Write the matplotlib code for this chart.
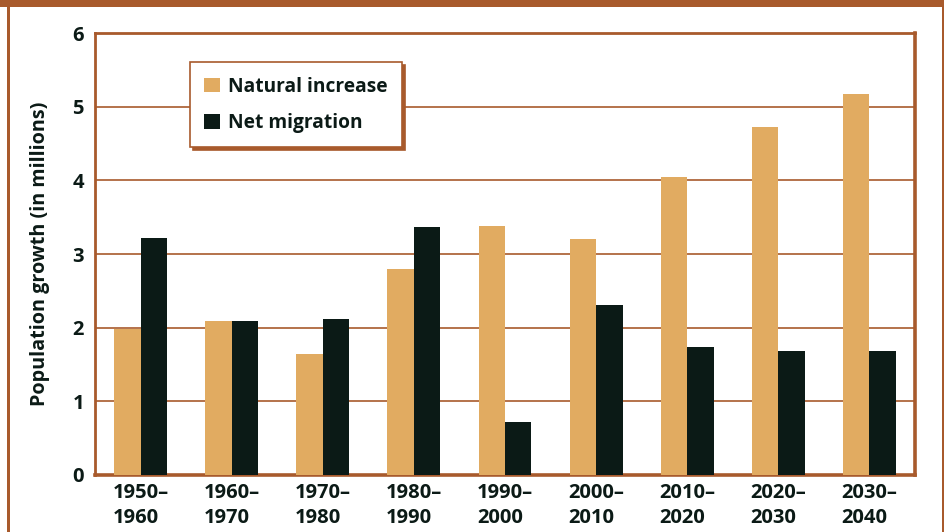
import matplotlib
matplotlib.use("Agg")
import matplotlib.pyplot as plt
from matplotlib.patches import Rectangle
import numpy as np

plt.rcParams['font.family'] = ['Open Sans', 'DejaVu Sans']

categories = ["1950–\n1960", "1960–\n1970", "1970–\n1980", "1980–\n1990", "1990–\n2000",
              "2000–\n2010", "2010–\n2020", "2020–\n2030", "2030–\n2040"]
natural_increase = [1.98, 2.09, 1.64, 2.80, 3.38, 3.20, 4.04, 4.72, 5.17]
net_migration = [3.22, 2.09, 2.12, 3.37, 0.72, 2.31, 1.74, 1.68, 1.68]
yticks = [0, 1, 2, 3, 4, 5, 6]

BROWN = "#A85A2C"
TAN = "#E1AB61"
DARK = "#0B1A16"

fig = plt.figure(figsize=(9.45, 5.32), dpi=100)
fig.patch.set_facecolor("white")

# figure frame (top, left, right)
fig.add_artist(Rectangle((0, 1 - 7/532), 1, 7/532, transform=fig.transFigure,
                         facecolor=BROWN, edgecolor="none"))
fig.add_artist(Rectangle((7/945, 0), 3/945, 1, transform=fig.transFigure,
                         facecolor=BROWN, edgecolor="none"))
fig.add_artist(Rectangle((942/945, 0), 3/945, 1, transform=fig.transFigure,
                         facecolor=BROWN, edgecolor="none"))

ax = fig.add_axes([95/945, 57/532, 820/945, 442/532])
x = np.arange(len(categories))
w = 0.29
ax.bar(x - w/2, natural_increase, width=w, color=TAN, label="Natural increase", zorder=3)
ax.bar(x + w/2, net_migration, width=w, color=DARK, label="Net migration", zorder=3)

ax.set_xlim(-0.5, len(categories) - 0.5)
ax.set_ylim(0, 6)
ax.set_yticks(yticks)
ax.set_yticklabels([str(v) for v in yticks])
ax.set_xticks(x)
ax.set_xticklabels(categories)
for lab in ax.get_xticklabels():
    lab.set_multialignment('left')
    lab.set_linespacing(1.3)

ax.tick_params(axis='both', length=0, labelsize=14.5, labelcolor=DARK)
ax.tick_params(axis='y', pad=8)
ax.tick_params(axis='x', pad=6)
for lab in ax.get_xticklabels() + ax.get_yticklabels():
    lab.set_fontweight('bold')

ax.yaxis.grid(True, color=BROWN, linewidth=1.2, zorder=1)
ax.set_axisbelow(True)

for side, lw in [('left', 2.0), ('top', 2.0), ('right', 2.6), ('bottom', 2.6)]:
    ax.spines[side].set_color(BROWN)
    ax.spines[side].set_linewidth(lw)

ax.set_ylabel("Population growth (in millions)", fontsize=14.2, fontweight='bold',
              color=DARK, labelpad=16)

leg = ax.legend(loc='upper left', bbox_to_anchor=(0.116, 0.934), borderaxespad=0,
                frameon=True, fancybox=False, shadow={'color': BROWN, 'alpha': 1.0},
                prop={'weight': 'bold', 'size': 13.8}, handlelength=0.8, handleheight=0.8,
                handletextpad=0.45, labelspacing=0.85, borderpad=0.75)
leg.get_frame().set_edgecolor(BROWN)
leg.get_frame().set_linewidth(1.2)
for t in leg.get_texts():
    t.set_color(DARK)
leg.set_zorder(5)

fig.savefig("out.png", dpi=100)
